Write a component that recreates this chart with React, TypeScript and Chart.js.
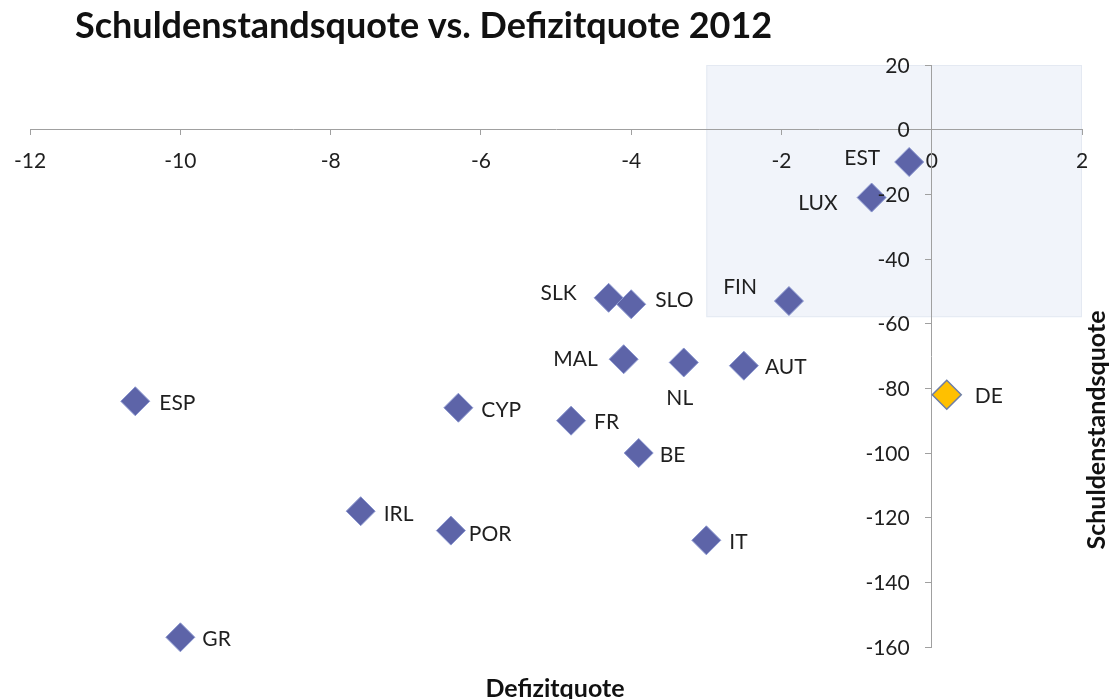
import { useEffect, useRef } from 'react';
import { Chart, registerables } from 'chart.js';

Chart.register(...registerables);

// Euro area member states, 2012: deficit ratio (x) against debt ratio (y, plotted as negative)
const countries = ['EST', 'LUX', 'FIN', 'SLK', 'SLO', 'MAL', 'NL', 'AUT', 'ESP', 'CYP', 'FR', 'BE', 'IRL', 'POR', 'IT', 'GR'];
const deficitRatio = [-0.3, -0.8, -1.9, -4.3, -4.0, -4.1, -3.3, -2.5, -10.6, -6.3, -4.8, -3.9, -7.6, -6.4, -3.0, -10.0];
const debtRatio = [-10, -21, -53, -52, -54, -71, -72, -73, -84, -86, -90, -100, -118, -124, -127, -157];

// Germany is highlighted as its own series
const highlightCountries = ['DE'];
const highlightDeficit = [0.2];
const highlightDebt = [-82];

// Axis ranges and tick steps
const xRange = [-12, 2];
const yRange = [-160, 20];
const xStep = 2;
const yStep = 20;

// Shaded region in data units
const focusX = [-3, 2];
const focusY = [-58, 20];

const TITLE = 'Schuldenstandsquote vs. Defizitquote 2012';
const X_TITLE = 'Defizitquote';
const Y_TITLE = 'Schuldenstandsquote';

const FONT = 'Lato, "Open Sans", sans-serif';
const TEXT_COLOR = '#1f1f1f';
const AXIS_COLOR = '#a0a0a0';
const TICK_SIZE = 21;
const LABEL_SIZE = 21;
const Y_TICK_LEN = 6;
const Y_TICK_PAD = 16;

// Where each data label sits relative to its marker: [dx, dy, align]
const labelAnchors: Record<string, [number, number, CanvasTextAlign]> = {
  EST: [-29, -5, 'right'],
  LUX: [-34, 5, 'right'],
  FIN: [-32, -15, 'right'],
  SLK: [-32, -5, 'right'],
  SLO: [24, -5, 'left'],
  MAL: [-26, -1, 'right'],
  NL: [-4, 35, 'center'],
  AUT: [21, 1, 'left'],
  ESP: [24, 1, 'left'],
  CYP: [23, 2, 'left'],
  FR: [23, 1, 'left'],
  BE: [21, 1, 'left'],
  IRL: [23, 2, 'left'],
  POR: [18, 3, 'left'],
  IT: [23, 1, 'left'],
  GR: [22, 1, 'left'],
  DE: [28, 1, 'left'],
};

// Light panel behind the upper right part, painted before the axes
const focusBoxPlugin = {
  id: 'focusBox',
  beforeDraw(chart: any) {
    const { ctx, scales } = chart;
    const x0 = scales.x.getPixelForValue(focusX[0]);
    const x1 = scales.x.getPixelForValue(focusX[1]);
    const y0 = scales.y.getPixelForValue(focusY[1]);
    const y1 = scales.y.getPixelForValue(focusY[0]);
    ctx.save();
    ctx.fillStyle = '#f1f4fa';
    ctx.fillRect(x0, y0, x1 - x0, y1 - y0);
    ctx.strokeStyle = '#e4e9f2';
    ctx.lineWidth = 1;
    ctx.strokeRect(x0 + 0.5, y0 + 0.5, x1 - x0 - 1, y1 - y0 - 1);
    ctx.restore();
  },
};

const textPlugin = {
  id: 'chartTexts',
  afterDatasetsDraw(chart: any) {
    const { ctx } = chart;
    ctx.save();
    ctx.font = `${LABEL_SIZE}px ${FONT}`;
    ctx.fillStyle = TEXT_COLOR;
    ctx.textBaseline = 'alphabetic';
    const half = LABEL_SIZE * 0.36;
    chart.data.datasets.forEach((ds: any, di: number) => {
      const meta = chart.getDatasetMeta(di);
      meta.data.forEach((pt: any, i: number) => {
        const name = ds.labels[i];
        const [dx, dy, align] = labelAnchors[name] || [22, 0, 'left'];
        ctx.textAlign = align;
        ctx.fillText(name, pt.x + dx, pt.y + dy + half);
      });
    });
    ctx.restore();
  },
  afterDraw(chart: any) {
    const { ctx, scales } = chart;
    ctx.save();

    // y tick labels, set to the left of the crossing y axis
    const yScale = scales.y;
    const axisX = scales.x.getPixelForValue(0);
    ctx.font = `${TICK_SIZE}px ${FONT}`;
    ctx.fillStyle = TEXT_COLOR;
    ctx.textAlign = 'right';
    ctx.textBaseline = 'alphabetic';
    yScale.ticks.forEach((t: any) => {
      const py = yScale.getPixelForValue(t.value);
      ctx.fillText(String(t.value), axisX - Y_TICK_LEN - Y_TICK_PAD, py + TICK_SIZE * 0.36);
    });

    ctx.fillStyle = '#111';
    ctx.font = `bold 36px ${FONT}`;
    ctx.textAlign = 'left';
    ctx.fillText(TITLE, 75, 38);

    ctx.font = `bold 25px ${FONT}`;
    ctx.textAlign = 'center';
    ctx.fillText(X_TITLE, 555, 697);

    ctx.translate(1105, 430);
    ctx.rotate(-Math.PI / 2);
    ctx.fillText(Y_TITLE, 0, 0);
    ctx.restore();
  },
};

export default function App() {
  const canvasRef = useRef<HTMLCanvasElement | null>(null);

  useEffect(() => {
    if (!canvasRef.current) return;
    const marker = (color: string, border: string, bw: number) => ({
      pointStyle: 'rectRot',
      pointRadius: 14.5,
      pointHoverRadius: 14.5,
      backgroundColor: color,
      borderColor: border,
      borderWidth: bw,
      showLine: false,
      clip: false as const,
    });
    const chart = new Chart(canvasRef.current, {
      type: 'scatter',
      data: {
        datasets: [
          {
            label: 'Euroraum',
            labels: countries,
            data: countries.map((_, i) => ({ x: deficitRatio[i], y: debtRatio[i] })),
            ...marker('#5d64a8', '#8a96cf', 1),
          } as any,
          {
            label: 'Deutschland',
            labels: highlightCountries,
            data: highlightCountries.map((_, i) => ({ x: highlightDeficit[i], y: highlightDebt[i] })),
            ...marker('#ffc000', '#6d7ea6', 1.5),
          } as any,
        ],
      },
      options: {
        responsive: false,
        animation: false,
        layout: { padding: { left: 29, right: 34, top: 65, bottom: 52 } },
        plugins: {
          legend: { display: false },
          title: { display: false },
          tooltip: { enabled: false },
        },
        scales: {
          x: {
            type: 'linear',
            min: xRange[0],
            max: xRange[1],
            position: { y: 0 } as any,
            afterFit: (s: any) => { s.height = 0; },
            ticks: {
              stepSize: xStep,
              padding: 14,
              maxRotation: 0,
              autoSkip: false,
              color: TEXT_COLOR,
              font: { family: FONT, size: TICK_SIZE },
            },
            grid: { display: true, drawOnChartArea: false, drawTicks: true, tickLength: 5, color: AXIS_COLOR },
            border: { display: true, color: AXIS_COLOR, width: 1 },
          },
          y: {
            type: 'linear',
            min: yRange[0],
            max: yRange[1],
            position: { x: 0 } as any,
            afterFit: (s: any) => { s.width = 0; },
            ticks: {
              stepSize: yStep,
              display: false,
              autoSkip: false,
            },
            grid: { display: true, drawOnChartArea: false, drawTicks: true, tickLength: Y_TICK_LEN, color: AXIS_COLOR },
            border: { display: true, color: AXIS_COLOR, width: 1 },
          },
        },
      },
      plugins: [focusBoxPlugin, textPlugin],
    });
    return () => chart.destroy();
  }, []);

  return (
    <div style={{ position: 'fixed', left: 0, top: 0, width: 1116, height: 699, background: '#fff' }}>
      <canvas ref={canvasRef} width={1116} height={699} style={{ display: 'block' }} />
    </div>
  );
}
